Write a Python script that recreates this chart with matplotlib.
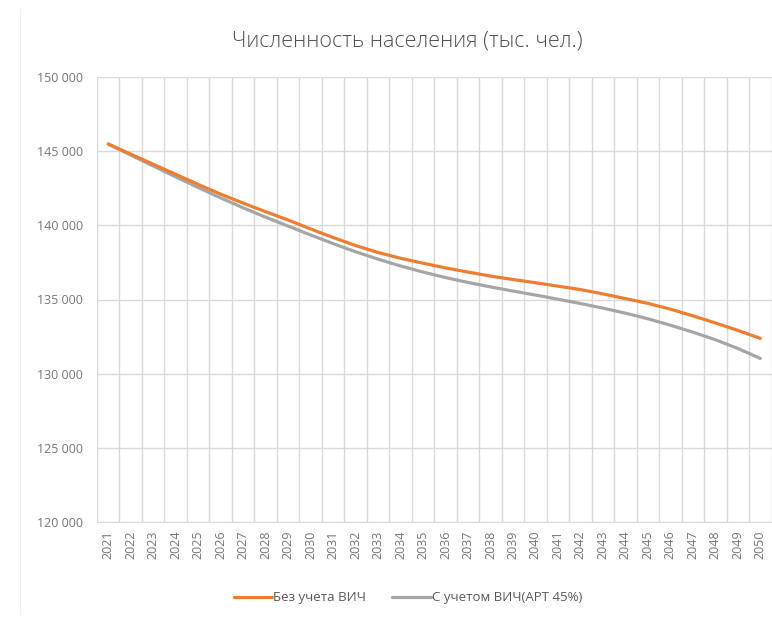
import matplotlib
matplotlib.use("Agg")
import matplotlib.pyplot as plt
import numpy as np

plt.rcParams['font.family'] = ['Open Sans', 'DejaVu Sans']

# Data (thousand people)
years = list(range(2021, 2051))
no_hiv = [145480, 144800, 144120, 143440, 142760, 142100, 141500, 140920,
          140360, 139760, 139180, 138640, 138170, 137780, 137450, 137130,
          136850, 136580, 136350, 136130, 135900, 135670, 135380, 135060,
          134740, 134350, 133900, 133420, 132920, 132380]
with_hiv = [145480, 144740, 144000, 143270, 142550, 141850, 141180, 140550,
            139950, 139350, 138770, 138220, 137720, 137260, 136850, 136480,
            136150, 135850, 135570, 135300, 135020, 134730, 134420, 134080,
            133700, 133270, 132800, 132290, 131700, 131030]
y_ticks = [120000, 125000, 130000, 135000, 140000, 145000, 150000]

fig = plt.figure(figsize=(7.72, 6.2), dpi=100)
ax = fig.add_axes([97 / 772, 1 - 522 / 620, 674.5 / 772, 445 / 620])

x = np.arange(len(years))
ax.plot(x, no_hiv, color='#ED7D31', lw=2.3, solid_capstyle='round',
        label='Без учета ВИЧ', zorder=3)
ax.plot(x, with_hiv, color='#A5A5A5', lw=2.3, solid_capstyle='round',
        label='С учетом ВИЧ(АРТ 45%)', zorder=2)

ax.set_xlim(-0.5, len(years) - 0.5)
ax.set_ylim(120000, 150000)
ax.set_yticks(y_ticks)
ax.set_yticklabels([f"{v:,}".replace(",", " ") for v in y_ticks])
ax.set_xticks(x)
ax.set_xticklabels([str(y) for y in years], rotation=90)
ax.set_xticks(np.arange(-0.5, len(years), 1), minor=True)

# gridlines like Excel
ax.grid(axis='y', color='#D9D9D9', lw=1)
ax.grid(axis='x', which='minor', color='#D9D9D9', lw=1)
ax.set_axisbelow(True)
for s in ['top', 'right', 'left']:
    ax.spines[s].set_visible(False)
ax.spines['bottom'].set_color('#D9D9D9')
ax.tick_params(which='both', length=0)
ax.tick_params(axis='y', labelsize=9, labelcolor='#767676', pad=10)
ax.tick_params(axis='x', labelsize=9, labelcolor='#767676', pad=6)

fig.text(407 / 772, 1 - 41 / 620, 'Численность населения (тыс. чел.)',
         ha='center', va='center', fontsize=15.5, color='#505050',
         fontweight='light')

fig.legend(loc='center', bbox_to_anchor=(408 / 772, 1 - 598 / 620), ncol=2,
           frameon=False, fontsize=9.5, labelcolor='#595959',
           handlelength=2.9, handletextpad=0.1, columnspacing=2.0)

# faint chart-area border on the left
fig.add_artist(plt.Line2D([20 / 772, 20 / 772], [0.01, 0.985],
                          color='#EEEEEE', lw=0.8))

fig.savefig('out.png', dpi=100)
